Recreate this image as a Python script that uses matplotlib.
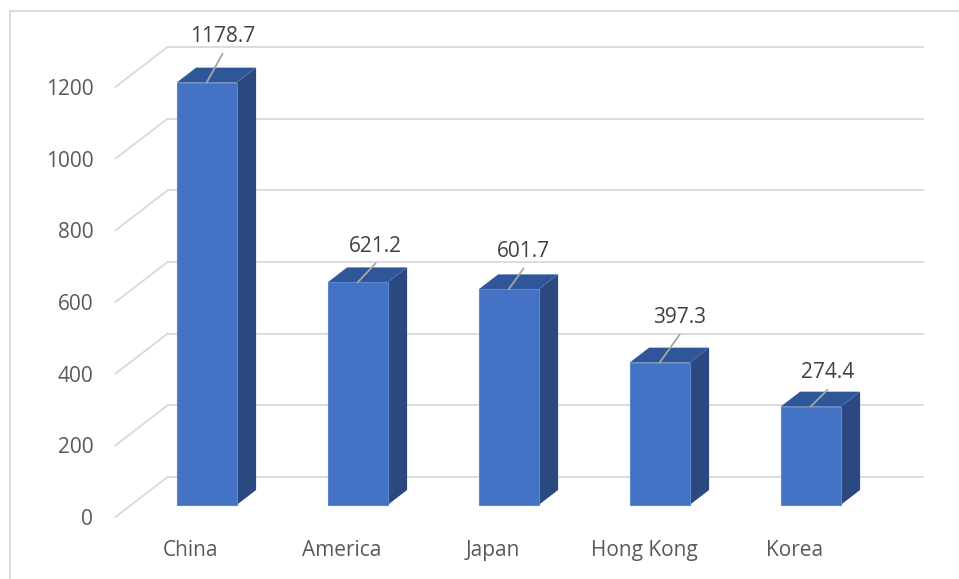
import matplotlib
matplotlib.use("Agg")
import matplotlib.pyplot as plt
from matplotlib.lines import Line2D

# ---- data ----
categories = ["China", "America", "Japan", "Hong Kong", "Korea"]
values = [1178.7, 621.2, 601.7, 397.3, 274.4]
value_labels = ["1178.7", "621.2", "601.7", "397.3", "274.4"]
y_ticks = [0, 200, 400, 600, 800, 1000, 1200]

# ---- layout / style ----
W, H = 959, 579
label_offsets_px = [(16, 46), (18, 36), (15, 38), (20, 45), (17, 34)]
front_col = "#4472C4"
side_col = "#2B4880"
top_col = "#30569A"
grid_col = "#D9D9D9"
text_col = "#595959"
label_col = "#404040"
plt.rcParams["font.family"] = ["Open Sans", "DejaVu Sans"]

fig = plt.figure(figsize=(W / 100, H / 100), dpi=100)
ax_left_px, ax_right_px, ax_bottom_px = 115.5, 870.5, 517
ymax = 1350
px_per_unit = 430 / 1200
ax_h_px = ymax * px_per_unit
ax = fig.add_axes([ax_left_px / W, (H - ax_bottom_px) / H,
                   (ax_right_px - ax_left_px) / W, ax_h_px / H])
ax.set_xlim(-0.5, len(categories) - 0.5)
ax.set_ylim(0, ymax)
for s in ax.spines.values():
    s.set_visible(False)

px_per_cat = (ax_right_px - ax_left_px) / len(categories)
# full floor depth (perspective offset) in data units
Dx = 52 / px_per_cat
Dy = 40 / px_per_unit
front_f, back_f = 0.30, 0.675
bar_w = 60 / px_per_cat

# walls: gridlines on back wall + floor/side diagonals
x0, x1 = -0.5, len(categories) - 0.5
for v in y_ticks:
    ax.add_line(Line2D([x0 + Dx, x1 + Dx], [v + Dy, v + Dy], color=grid_col,
                       lw=1.3, zorder=1, clip_on=False))
    ax.add_line(Line2D([x0, x0 + Dx], [v, v + Dy], color=grid_col,
                       lw=1.3, zorder=1, clip_on=False))

# bars
xs = [i + front_f * Dx for i in range(len(categories))]
base = front_f * Dy
bd_x = (back_f - front_f) * Dx
bd_y = (back_f - front_f) * Dy
ax.bar(xs, values, width=bar_w, bottom=base, color=front_col,
       edgecolor="#5B87D2", linewidth=0.8, zorder=3, clip_on=False)
for xc, v in zip(xs, values):
    xl, xr = xc - bar_w / 2, xc + bar_w / 2
    top = base + v
    ax.fill([xr, xr + bd_x, xr + bd_x, xr], [base, base + bd_y, top + bd_y, top],
            color=side_col, zorder=2.9, clip_on=False, lw=0)
    ax.fill([xl, xl + bd_x, xr + bd_x, xr], [top, top + bd_y, top + bd_y, top],
            color=top_col, zorder=2.9, clip_on=False, lw=0)

# data labels with leader lines
for xc, v, lab, (dx, dy) in zip(xs, values, value_labels, label_offsets_px):
    pt = (xc, base + v)
    ax.annotate("", xy=pt, xytext=(dx, dy - 17), textcoords="offset pixels",
                arrowprops=dict(arrowstyle="-", color="#A6A6A6", lw=1.3,
                                shrinkA=0, shrinkB=0), zorder=5,
                annotation_clip=False)
    ax.annotate(lab, xy=pt, xytext=(dx, dy), textcoords="offset pixels",
                ha="center", va="center", fontsize=15, color=label_col,
                zorder=6, annotation_clip=False)

# axes tick labels
ax.set_yticks(y_ticks)
ax.set_yticklabels([str(t) for t in y_ticks])
ax.set_xticks(range(len(categories)))
ax.set_xticklabels(categories)
ax.tick_params(axis="both", length=0, labelsize=15, labelcolor=text_col)
ax.tick_params(axis="y", pad=16)
ax.tick_params(axis="x", pad=16.5)

# chart border (top and left edges visible)
fig.add_artist(Line2D([10 / W, 10 / W], [0, 1 - 11 / H], color=grid_col,
                      lw=1.3, transform=fig.transFigure))
fig.add_artist(Line2D([10 / W, 1], [1 - 11 / H, 1 - 11 / H], color=grid_col,
                      lw=1.3, transform=fig.transFigure))

fig.savefig("out.png", dpi=100)
